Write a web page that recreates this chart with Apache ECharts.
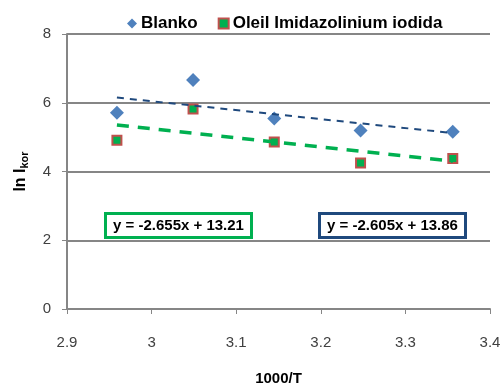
<!DOCTYPE html>
<html>
<head>
<meta charset="utf-8">
<script src="https://cdn.jsdelivr.net/npm/echarts@6/dist/echarts.min.js"></script>
<style>
  html, body { margin: 0; padding: 0; background: #fff; }
  #chart { width: 500px; height: 384px; }
</style>
</head>
<body>
<div id="chart"></div>
<script>
// 1000/T values (K^-1 x 1000) and ln I_kor for each solution
const invT = [2.959, 3.049, 3.145, 3.247, 3.356];
const blanko = [5.71, 6.66, 5.54, 5.19, 5.16];
const oleil = [4.91, 5.82, 4.86, 4.25, 4.38];

// Linear fits: [slope, intercept]
const fitBlanko = [-2.605, 13.86];
const fitOleil = [-2.655, 13.21];

const xTicks = [2.9, 3.0, 3.1, 3.2, 3.3, 3.4];
const yTicks = [0, 2, 4, 6, 8];

const seriesNames = ['Blanko', 'Oleil Imidazolinium iodida'];

function pairs(xs, ys) { return xs.map((x, i) => [x, ys[i]]); }
function fitLine(fit) {
  const x0 = invT[0], x1 = invT[invT.length - 1];
  return [[x0, fit[0] * x0 + fit[1]], [x1, fit[0] * x1 + fit[1]]];
}
function eqText(fit) {
  return 'y = ' + fit[0].toFixed(3) + 'x + ' + fit[1].toFixed(2);
}

const font = 'Liberation Sans, Arial, sans-serif';
const chart = echarts.init(document.getElementById('chart'), null, { renderer: 'canvas' });

chart.setOption({
  animation: false,
  textStyle: { fontFamily: font },
  grid: { left: 67, right: 10, top: 34, bottom: 75, outerBoundsMode: 'none', containLabel: false },
  legend: {
    data: seriesNames,
    top: 10,
    left: 122,
    itemGap: 20,
    itemWidth: 10,
    itemHeight: 10,
    textStyle: { fontFamily: font, fontWeight: 'bold', fontSize: 17, color: '#000', padding: [0, 0, 0, -1] }
  },
  xAxis: {
    type: 'value',
    min: xTicks[0],
    max: xTicks[xTicks.length - 1],
    interval: 0.1,
    name: '1000/T',
    nameLocation: 'middle',
    nameGap: 62,
    nameTextStyle: { fontFamily: font, fontWeight: 'bold', fontSize: 15, color: '#000' },
    axisLine: { lineStyle: { color: '#868686', width: 2 } },
    axisTick: { show: true, length: 5, lineStyle: { color: '#868686' } },
    axisLabel: {
      margin: 26, fontSize: 15, color: '#404040', fontFamily: font,
      formatter: v => (Math.abs(v - 3) < 1e-9 ? '3' : v.toFixed(1))
    },
    splitLine: { show: false }
  },
  yAxis: {
    type: 'value',
    min: yTicks[0],
    max: yTicks[yTicks.length - 1],
    interval: 2,
    name: '{b|ln I}{s|kor}',
    nameLocation: 'middle',
    nameGap: 37,
    nameTextStyle: {
      rich: {
        b: { fontFamily: font, fontWeight: 'bold', fontSize: 16, color: '#000' },
        s: { fontFamily: font, fontWeight: 'bold', fontSize: 11, color: '#000', padding: [8, 0, 0, 0] }
      }
    },
    axisLine: { show: true, lineStyle: { color: '#868686', width: 2 } },
    axisTick: { show: true, length: 5, lineStyle: { color: '#868686' } },
    axisLabel: { margin: 16, fontSize: 15, color: '#404040', fontFamily: font },
    splitLine: { show: true, lineStyle: { color: '#868686', width: 2 } }
  },
  series: [
    {
      name: seriesNames[0],
      type: 'scatter',
      symbol: 'diamond',
      symbolSize: 14,
      itemStyle: { color: '#4F81BD', opacity: 1 },
      data: pairs(invT, blanko),
      z: 3
    },
    {
      name: seriesNames[1],
      type: 'scatter',
      symbol: 'rect',
      symbolSize: 9,
      itemStyle: { color: '#00B050', borderColor: '#C0504D', borderWidth: 2, opacity: 1 },
      data: pairs(invT, oleil),
      z: 3
    },
    {
      name: 'fit-blanko',
      type: 'line',
      data: fitLine(fitBlanko),
      symbol: 'none',
      lineStyle: { color: '#1F497D', width: 2, type: [7, 6] },
      z: 4
    },
    {
      name: 'fit-oleil',
      type: 'line',
      data: fitLine(fitOleil),
      symbol: 'none',
      lineStyle: { color: '#00B050', width: 3.5, type: [12, 9] },
      z: 4
    }
  ],
  title: [
    {
      text: eqText(fitOleil),
      left: 105, top: 213,
      padding: [5, 8, 5, 8],
      borderColor: '#00B050', borderWidth: 3, backgroundColor: '#fff',
      textStyle: { fontFamily: font, fontWeight: 'bold', fontSize: 15, color: '#000' }
    },
    {
      text: eqText(fitBlanko),
      left: 319, top: 213,
      padding: [5, 8, 5, 8],
      borderColor: '#1F497D', borderWidth: 3, backgroundColor: '#fff',
      textStyle: { fontFamily: font, fontWeight: 'bold', fontSize: 15, color: '#000' }
    }
  ]
});
</script>
</body>
</html>
